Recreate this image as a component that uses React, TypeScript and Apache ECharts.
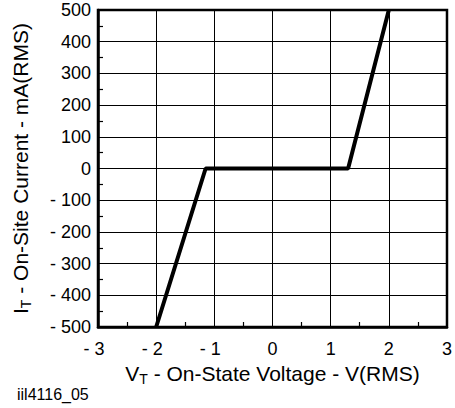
import React, { useEffect, useRef } from "react";
import * as echarts from "echarts";

const voltage = [-2, -1.15, 1.3, 2];
const current = [-500, 0, 0, 500];
const xTicks = [-3, -2, -1, 0, 1, 2, 3];
const yTicks = [-500, -400, -300, -200, -100, 0, 100, 200, 300, 400, 500];
const caption = "iil4116_05";

const fontFamily = "Liberation Sans, Arial, Helvetica, sans-serif";

function fmt(v: number): string {
  return v < 0 ? "- " + Math.abs(v) : String(v);
}

export default function App() {
  const ref = useRef<HTMLDivElement>(null);
  useEffect(() => {
    if (!ref.current) return;
    const chart = echarts.init(ref.current, null, { renderer: "svg" });
    const data = voltage.map((v, i) => [v, current[i]]);
    chart.setOption({
      animation: false,
      backgroundColor: "#fff",
      textStyle: { fontFamily },
      grid: {
        left: 98,
        top: 10,
        right: 4,
        bottom: 81,
        show: true,
        borderColor: "#000",
        borderWidth: 2.5,
      },
      xAxis: {
        type: "value",
        min: xTicks[0],
        max: xTicks[xTicks.length - 1],
        interval: 1,
        name: "{m|V}{s|T}{m| - On-State Voltage - V(RMS)}",
        nameLocation: "middle",
        nameGap: 30,
        nameTextStyle: {
          rich: {
            m: { fontSize: 21, color: "#000", fontFamily },
            s: { fontSize: 14, color: "#000", fontFamily, padding: [12, 0, 0, 0] },
          },
        },
        axisLine: { show: true, onZero: false, lineStyle: { color: "#000", width: 2.5 } },
        axisTick: { show: true, inside: true, length: 5, lineStyle: { color: "#000", width: 1 } },
        minorTick: { show: true, splitNumber: 2, length: 5, lineStyle: { color: "#000", width: 1.2 } },
        splitLine: { show: true, lineStyle: { color: "#000", width: 1 } },
        axisLabel: {
          margin: 13,
          fontSize: 18,
          color: "#000",
          fontFamily,
          formatter: (v: number) => (v < 0 ? "{n|" + fmt(v) + "}" : "{p|" + v + "}"),
          rich: {
            n: { fontSize: 18, color: "#000", fontFamily, padding: [0, 8, 0, 0] },
            p: { fontSize: 18, color: "#000", fontFamily },
          },
        },
      },
      yAxis: {
        type: "value",
        min: yTicks[0],
        max: yTicks[yTicks.length - 1],
        interval: 100,
        name: "{m|I}{s|T}{m| - On-Site Current - mA(RMS)}",
        nameLocation: "middle",
        nameRotate: 90,
        nameGap: 65,
        nameTextStyle: {
          rich: {
            m: { fontSize: 21, color: "#000", fontFamily },
            s: { fontSize: 14, color: "#000", fontFamily, padding: [12, 0, 0, 0] },
          },
        },
        axisLine: { show: true, onZero: false, lineStyle: { color: "#000", width: 2.5 } },
        axisTick: { show: true, inside: true, length: 5, lineStyle: { color: "#000", width: 1 } },
        minorTick: { show: true, splitNumber: 2, length: 5, lineStyle: { color: "#000", width: 1.2 } },
        splitLine: { show: true, lineStyle: { color: "#000", width: 1 } },
        axisLabel: {
          margin: 7,
          fontSize: 18,
          color: "#000",
          fontFamily,
          formatter: (v: number) => fmt(v),
        },
      },
      graphic: [
        {
          type: "text",
          left: 17,
          top: 386,
          style: { text: caption, fontSize: 16, fill: "#000", fontFamily },
        },
      ],
      series: [
        {
          type: "line",
          data,
          symbol: "none",
          lineStyle: { color: "#000", width: 4 },
        },
      ],
    });
    return () => chart.dispose();
  }, []);
  return (
    <div
      ref={ref}
      style={{ position: "absolute", left: 0, top: 0, width: 455, height: 408, background: "#fff" }}
    />
  );
}
